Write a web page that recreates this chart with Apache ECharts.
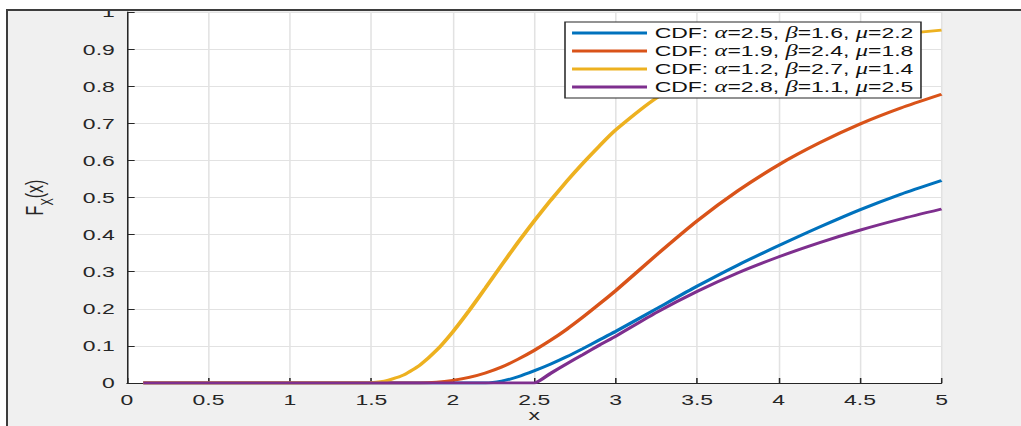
<!DOCTYPE html>
<html>
<head>
<meta charset="utf-8">
<script src="https://cdn.jsdelivr.net/npm/echarts@6/dist/echarts.min.js"></script>
<style>
  html, body { margin: 0; padding: 0; background: #fff; width: 1021px; height: 426px; overflow: hidden; }
  #frame { position: absolute; left: 6px; top: 9px; width: 1015px; height: 417px; background: #f0f0f0;
           border-top: 2px solid #3d3d3d; border-left: 2px solid #3d3d3d; }
  #clip { position: absolute; left: 0; top: 11px; width: 1021px; height: 415px; overflow: hidden; }
  #chart { position: absolute; left: 0; top: 0; height: 415px; transform-origin: 0 0; }
</style>
</head>
<body>
<div id="frame"></div>
<div id="clip"><div id="chart"></div></div>
<script>
// Shifted CDF curves, sampled on a shared x grid
const xs = [0.1, 1.4, 1.5, 1.6, 1.7, 1.8, 1.9, 2.0, 2.1, 2.2, 2.3, 2.4, 2.5, 2.6, 2.7, 2.8, 2.9, 3.0,
            3.25, 3.5, 3.75, 4.0, 4.25, 4.5, 4.75, 5.0];

const cdfBlue   = [0, 0, 0, 0, 0, 0, 0, 0, 0, 0, 0.005, 0.017, 0.033, 0.051, 0.071, 0.093, 0.116, 0.139,
                   0.200, 0.261, 0.318, 0.370, 0.420, 0.467, 0.509, 0.546];
const cdfOrange = [0, 0, 0, 0, 0, 0, 0.002, 0.007, 0.015, 0.027, 0.043, 0.064, 0.088, 0.115, 0.145, 0.178, 0.213, 0.249,
                   0.345, 0.437, 0.518, 0.588, 0.647, 0.698, 0.741, 0.778];
const cdfYellow = [0, 0, 0.001, 0.007, 0.022, 0.049, 0.088, 0.138, 0.195, 0.256, 0.318, 0.379, 0.437, 0.492, 0.544, 0.593, 0.639, 0.682,
                   0.768, 0.826, 0.866, 0.893, 0.913, 0.929, 0.941, 0.951];
const cdfPurple = [0, 0, 0, 0, 0, 0, 0, 0, 0, 0, 0, 0, 0, 0.026, 0.052, 0.077, 0.102, 0.126,
                   0.190, 0.247, 0.297, 0.340, 0.378, 0.412, 0.442, 0.469];

// Distribution parameters shown in the legend
const alphas = [2.5, 1.9, 1.2, 2.8];
const betas  = [1.6, 2.4, 2.7, 1.1];
const mus    = [2.2, 1.8, 1.4, 2.5];

const curves = [cdfBlue, cdfOrange, cdfYellow, cdfPurple];
const colors = ['#0072BD', '#D95319', '#EDB120', '#7E2F8E'];

const xTicks = { min: 0, max: 5, step: 0.5 };
const yTicks = { min: 0, max: 1, step: 0.1 };

// The figure is drawn narrow and widened horizontally
const SX = 1.53;
const W = 1021 / SX;
const el = document.getElementById('chart');
el.style.width = W + 'px';
el.style.transform = 'scaleX(' + SX + ')';

const FONT = 'Liberation Sans, Arial, Helvetica, sans-serif';
const INK = '#262626';

const names = alphas.map((a, i) => 'CDF: α=' + a + ', β=' + betas[i] + ', μ=' + mus[i]);

const series = curves.map((ys, i) => ({
  name: names[i],
  type: 'line',
  data: xs.map((x, k) => [x, ys[k]]),
  symbol: 'none',
  smooth: 0.2,
  lineStyle: { color: colors[i], width: 2.8 },
  itemStyle: { color: colors[i] },
  emphasis: { disabled: true }
}));

const chart = echarts.init(el, null, { renderer: 'svg' });
chart.setOption({
  animation: false,
  backgroundColor: 'transparent',
  grid: {
    left: 127 / SX,
    right: (1021 - 942) / SX,
    top: 1,
    bottom: 43,
    containLabel: false,
    outerBoundsMode: 'none',
    show: true,
    backgroundColor: '#ffffff',
    borderWidth: 0
  },
  legend: {
    orient: 'vertical',
    left: 565 / SX,
    top: 11,
    padding: [2, 5, 2, 4.6],
    icon: 'rect',
    itemWidth: 49,
    itemHeight: 2.8,
    itemGap: 0,
    backgroundColor: '#ffffff',
    borderColor: INK,
    borderWidth: 1,
    borderRadius: 0,
    data: names,
    formatter: n => n.replace(/[αβμ]/g, g => '{g|' + g + '}'),
    textStyle: {
      fontFamily: FONT, fontSize: 15, color: '#111', lineHeight: 18,
      rich: {
        g: { fontFamily: 'Liberation Serif, DejaVu Serif, serif', fontStyle: 'italic', fontSize: 16, color: '#111', lineHeight: 18 }
      }
    }
  },
  xAxis: {
    type: 'value',
    min: xTicks.min, max: xTicks.max, interval: xTicks.step,
    name: 'x',
    nameLocation: 'middle',
    nameGap: 24,
    nameMoveOverlap: false,
    nameTextStyle: { fontFamily: FONT, fontSize: 15, color: INK, lineHeight: 15 },
    axisLine: { show: true, onZero: false, lineStyle: { color: INK, width: 1 } },
    axisTick: { show: true, inside: true, length: 5, lineStyle: { color: INK } },
    axisLabel: { fontFamily: FONT, fontSize: 15, color: INK, margin: 9 },
    splitLine: { show: true, lineStyle: { color: '#e2e2e2', width: 1 } }
  },
  yAxis: {
    type: 'value',
    min: yTicks.min, max: yTicks.max, interval: yTicks.step,
    name: '{n|F}{s|X}{n|(x)}',
    nameLocation: 'middle',
    nameRotate: 90,
    nameGap: 46.5,
    nameMoveOverlap: false,
    nameTextStyle: {
      rich: {
        n: { fontFamily: FONT, fontSize: 16, color: INK, lineHeight: 22, verticalAlign: 'top' },
        s: { fontFamily: FONT, fontSize: 11, color: INK, lineHeight: 11, verticalAlign: 'bottom' }
      }
    },
    axisLine: { show: true, onZero: false, lineStyle: { color: INK, width: 1 } },
    axisTick: { show: true, inside: true, length: 5, lineStyle: { color: INK } },
    axisLabel: { fontFamily: FONT, fontSize: 15, color: INK, margin: 8 },
    splitLine: { show: true, lineStyle: { color: '#e2e2e2', width: 1 } }
  },
  series: series
});
</script>
</body>
</html>
